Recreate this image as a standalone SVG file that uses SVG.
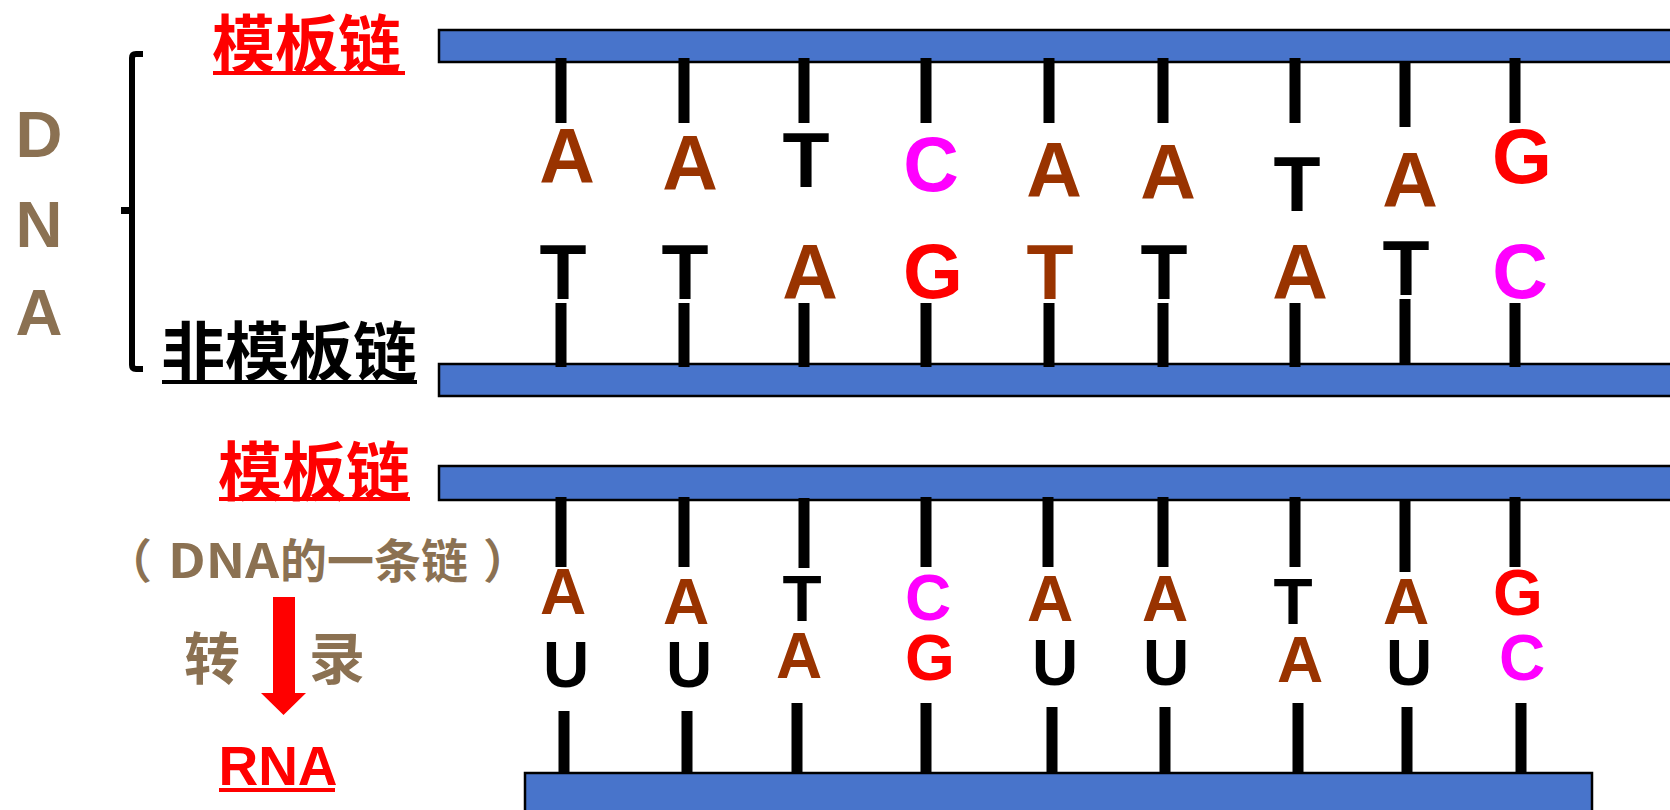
<svg xmlns="http://www.w3.org/2000/svg" width="1670" height="810" viewBox="0 0 1670 810">
<style>
.band{fill:#4874CB;stroke:#000;stroke-width:2.5}
.stick{stroke:#000;stroke-width:11;fill:none}
.b{font-family:"Liberation Sans",Arial,sans-serif;font-weight:bold;text-anchor:middle}
.big{font-size:77px}
.sm{font-size:64px}
.cjk{font-family:"Noto Sans CJK SC","Noto Sans CJK JP",sans-serif;font-weight:bold}
.br{fill:#993300}.bk{fill:#000}.mg{fill:#FF00FF}.rd{fill:#FF0000}
.tan{fill:#8B7152}
</style>
<rect width="1670" height="810" fill="#fff"/>
<g id="strands">
<rect id="dna-template" class="band" x="439" y="30" width="1240" height="32"/>
<rect id="dna-nontemplate" class="band" x="439" y="364" width="1240" height="32"/>
<rect id="template2" class="band" x="439" y="466" width="1240" height="34"/>
<rect id="rna-strand" class="band" x="525" y="773" width="1067" height="50"/>
</g>
<g id="connectors">
<path class="stick" d="M561,58V123M684,58V123M804,58V123M926,58V123M1049,58V123M1163,58V123M1295,58V123M1405,62V127M1515,58V123"/>
<path class="stick" d="M561,303V367M684,303V367M804,303V367M926,303V367M1049,303V367M1163,303V367M1295,303V367M1405,299V363M1515,303V367"/>
<path class="stick" d="M561,497V567M684,497V567M804,498V568M926,497V567M1048,497V567M1163,497V567M1295,497V567M1405,500V572M1515,497V567"/>
<path class="stick" d="M564,711V773M687,711V773M797,703V773M926,703V773M1052,707V773M1165,707V773M1298,703V773M1407,707V773M1521,703V773"/>
</g>
<g id="dna-template-bases" class="b big">
<text x="567" y="183" class="br">A</text>
<text x="690" y="190" class="br">A</text>
<text x="806" y="187" class="bk">T</text>
<text x="931" y="191" class="mg">C</text>
<text x="1054" y="197" class="br">A</text>
<text x="1168" y="199" class="br">A</text>
<text x="1297" y="211" class="bk">T</text>
<text x="1410" y="207" class="br">A</text>
<text x="1522" y="183" class="rd">G</text>
</g>
<g id="dna-nontemplate-bases" class="b big">
<text x="563" y="299" class="bk">T</text>
<text x="685" y="299" class="bk">T</text>
<text x="810" y="299" class="br">A</text>
<text x="933" y="298" class="rd">G</text>
<text x="1050" y="299" class="br">T</text>
<text x="1164" y="299" class="bk">T</text>
<text x="1300" y="299" class="br">A</text>
<text x="1406" y="295" class="bk">T</text>
<text x="1520" y="298" class="mg">C</text>
</g>
<g id="template2-bases" class="b sm">
<text x="563" y="614" class="br">A</text>
<text x="686" y="624" class="br">A</text>
<text x="802" y="621" class="bk">T</text>
<text x="928" y="620" class="mg">C</text>
<text x="1050" y="621" class="br">A</text>
<text x="1165" y="621" class="br">A</text>
<text x="1293" y="624" class="bk">T</text>
<text x="1406" y="624" class="br">A</text>
<text x="1518" y="615" class="rd">G</text>
</g>
<g id="rna-bases" class="b sm">
<text x="566" y="687" class="bk">U</text>
<text x="689" y="687" class="bk">U</text>
<text x="799" y="678" class="br">A</text>
<text x="930" y="680" class="rd">G</text>
<text x="1055" y="685" class="bk">U</text>
<text x="1166" y="685" class="bk">U</text>
<text x="1300" y="682" class="br">A</text>
<text x="1409" y="685" class="bk">U</text>
<text x="1522" y="680" class="mg">C</text>
</g>
<g id="label-template1">
<text x="212" y="67" class="cjk rd" font-size="63">模板链</text>
<rect x="213" y="71" width="192" height="4" class="rd"/>
</g>
<g id="label-nontemplate">
<text x="161" y="375" class="cjk bk" font-size="64">非模板链</text>
<rect x="162" y="380" width="255" height="4" class="bk"/>
</g>
<g id="label-dna">
<text x="39" y="157" class="b tan" font-size="65">D</text>
<text x="39" y="247" class="b tan" font-size="65">N</text>
<text x="39" y="335" class="b tan" font-size="65">A</text>
</g>
<g id="bracket">
<path d="M143,54H136Q132,54 132,58V365Q132,369 136,369H143" fill="none" stroke="#000" stroke-width="6"/>
<rect x="121" y="207" width="11" height="7" fill="#000"/>
</g>
<g id="label-template2">
<text x="218" y="495" class="cjk rd" font-size="64">模板链</text>
<rect x="219" y="497" width="191" height="4" class="rd"/>
</g>
<g id="label-one-strand" class="cjk tan">
<text x="105" y="578" font-size="47">（</text>
<text x="168" y="578" font-size="47" textLength="111" lengthAdjust="spacingAndGlyphs">DNA</text>
<text x="280" y="578" font-size="47">的一条链</text>
<text x="483" y="578" font-size="47">）</text>
</g>
<g id="transcription">
<polygon points="273,597 295,597 295,693 306,693 283.5,715 261,693 273,693" class="rd"/>
<text x="184" y="679" class="cjk tan" font-size="56">转</text>
<text x="309" y="679" class="cjk tan" font-size="56">录</text>
</g>
<g id="label-rna">
<text x="278" y="785" class="b rd" font-size="55">RNA</text>
<rect x="219" y="788" width="116" height="4" class="rd"/>
</g>
</svg>
